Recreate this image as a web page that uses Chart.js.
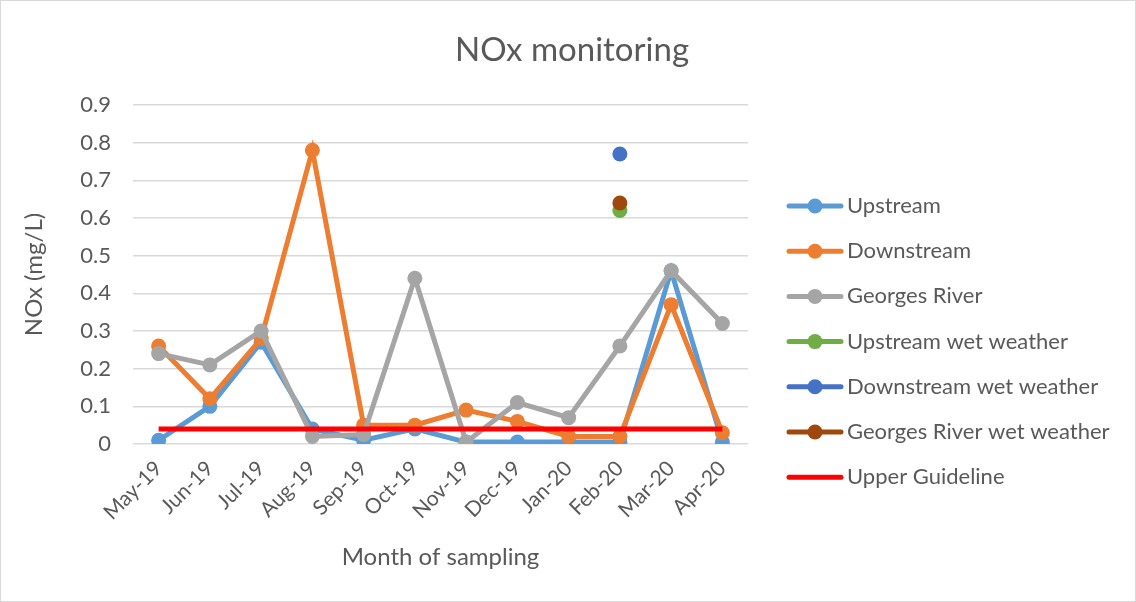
<!DOCTYPE html>
<html>
<head>
<meta charset="utf-8">
<script src="https://cdn.jsdelivr.net/npm/chart.js@4"></script>
<style>
  html, body { margin: 0; padding: 0; background: #fff; }
  #wrap { width: 1136px; height: 602px; }
</style>
</head>
<body>
<div id="wrap"><canvas id="myChart" width="1136" height="602"></canvas></div>
<script>
const months = ['May-19', 'Jun-19', 'Jul-19', 'Aug-19', 'Sep-19', 'Oct-19', 'Nov-19', 'Dec-19', 'Jan-20', 'Feb-20', 'Mar-20', 'Apr-20'];
const upstream = [0.01, 0.10, 0.27, 0.04, 0.01, 0.04, 0.005, 0.005, 0.005, 0.005, 0.46, 0.005];
const downstream = [0.26, 0.12, 0.28, 0.78, 0.05, 0.05, 0.09, 0.06, 0.02, 0.02, 0.37, 0.03];
const georges = [0.24, 0.21, 0.30, 0.02, 0.025, 0.44, 0.005, 0.11, 0.07, 0.26, 0.46, 0.32];
const upstreamWet = [null, null, null, null, null, null, null, null, null, 0.62, null, null];
const downstreamWet = [null, null, null, null, null, null, null, null, null, 0.77, null, null];
const georgesWet = [null, null, null, null, null, null, null, null, null, 0.64, null, null];
const guideline = [0.04, 0.04, 0.04, 0.04, 0.04, 0.04, 0.04, 0.04, 0.04, 0.04, 0.04, 0.04];
const yTicks = [0, 0.1, 0.2, 0.3, 0.4, 0.5, 0.6, 0.7, 0.8, 0.9];

const FONT = 'Lato, "Open Sans", sans-serif';
const GREY = '#595959';

function series(label, data, color, idx, showMarker) {
	return {
		label: label,
		data: data,
		borderColor: color,
		backgroundColor: color,
		borderWidth: 5,
		pointRadius: showMarker ? 7.5 : 0,
		pointHoverRadius: showMarker ? 7.5 : 0,
		pointBorderWidth: 0,
		pointBackgroundColor: color,
		tension: 0,
		spanGaps: false,
		order: 10 - idx,
		marker: showMarker
	};
}

// legend + title drawn by hand so they sit like the original
const sideLegend = {
	id: 'sideLegend',
	afterDraw(chart) {
		const ctx = chart.ctx;
		ctx.save();
		ctx.fillStyle = GREY;
		ctx.font = '33px ' + FONT;
		ctx.textAlign = 'center';
		ctx.textBaseline = 'middle';
		ctx.fillText('NOx monitoring', 572, 50);
		chart.data.datasets.forEach((ds, i) => {
			const y = 206 + i * 45.2;
			ctx.strokeStyle = ds.borderColor;
			ctx.lineWidth = 5;
			ctx.lineCap = 'round';
			ctx.beginPath();
			ctx.moveTo(789, y);
			ctx.lineTo(841, y);
			ctx.stroke();
			if (ds.marker) {
				ctx.fillStyle = ds.borderColor;
				ctx.beginPath();
				ctx.arc(815, y, 7.5, 0, Math.PI * 2);
				ctx.fill();
			}
			ctx.fillStyle = GREY;
			ctx.font = '22px ' + FONT;
			ctx.textBaseline = 'middle';
			ctx.textAlign = 'left';
			ctx.fillText(ds.label, 847, y);
		});
		ctx.restore();
	}
};

const frame = {
	id: 'frame',
	beforeDraw(chart) {
		const ctx = chart.ctx;
		ctx.save();
		ctx.fillStyle = '#fff';
		ctx.fillRect(0, 0, chart.width, chart.height);
		ctx.strokeStyle = '#d9d9d9';
		ctx.lineWidth = 1;
		ctx.strokeRect(0.5, 0.5, chart.width - 1, chart.height - 1);
		ctx.restore();
	}
};

const ctx = document.getElementById('myChart').getContext('2d');
const myChart = new Chart(ctx, {
	type: 'line',
	data: {
		labels: months,
		datasets: [
			series('Upstream', upstream, '#5B9BD5', 0, true),
			series('Downstream', downstream, '#ED7D31', 1, true),
			series('Georges River', georges, '#A5A5A5', 2, true),
			series('Upstream wet weather', upstreamWet, '#70AD47', 3, true),
			series('Downstream wet weather', downstreamWet, '#4472C4', 4, true),
			series('Georges River wet weather', georgesWet, '#9E480E', 5, true),
			series('Upper Guideline', guideline, '#FF0000', 6, false)
		]
	},
	options: {
		responsive: false,
		animation: false,
		layout: {
			padding: { left: 0, right: 388, top: 105, bottom: 0 }
		},
		plugins: {
			legend: { display: false },
			tooltip: { enabled: false },
			title: { display: false }
		},
		scales: {
			x: {
				type: 'category',
				offset: true,
				grid: { display: false },
				border: { display: false },
				afterFit(axis) { axis.height = 158; },
				ticks: {
					color: GREY,
					font: { family: FONT, size: 21 },
					maxRotation: 45,
					minRotation: 45,
					autoSkip: false,
					padding: 4
				},
				title: {
					display: true,
					text: 'Month of sampling',
					color: GREY,
					font: { family: FONT, size: 24 },
					padding: { top: 0, bottom: 30 }
				}
			},
			y: {
				min: 0,
				max: 0.9,
				afterBuildTicks(axis) {
					axis.ticks = yTicks.map(v => ({ value: v }));
				},
				afterFit(axis) { axis.width = 133; },
				grid: { color: '#d9d9d9', lineWidth: 1.5, drawTicks: false },
				border: { display: false },
				ticks: {
					color: GREY,
					font: { family: FONT, size: 22 },
					padding: 22,
					callback: v => String(v)
				},
				title: {
					display: true,
					text: 'NOx (mg/L)',
					color: GREY,
					font: { family: FONT, size: 24 },
					padding: { top: 20, bottom: 0 }
				}
			}
		}
	},
	plugins: [frame, sideLegend]
});
</script>
</body>
</html>
